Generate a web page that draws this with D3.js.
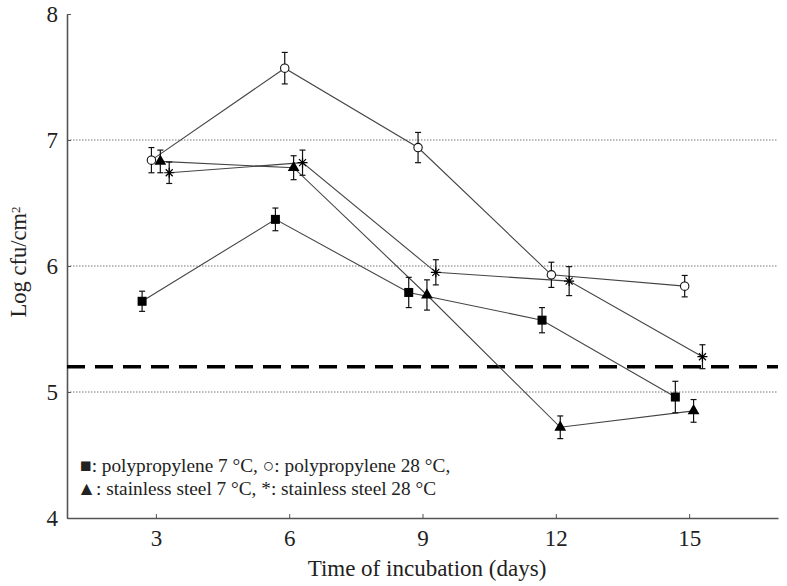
<!DOCTYPE html>
<html>
<head>
<meta charset="utf-8">
<script src="https://cdn.jsdelivr.net/npm/d3@7"></script>
<style>
  body { margin: 0; background: #fff; }
  svg text { font-family: "Liberation Serif", "Times New Roman", serif; fill: #222; }
</style>
</head>
<body>
<div id="chart"></div>
<script>
// Data
const days = [3, 6, 9, 12, 15];
const ppCold = [5.72, 6.37, 5.79, 5.57, 4.96];
const ppColdErr = [0.08, 0.09, 0.12, 0.10, 0.125];
const ppWarm = [6.84, 7.57, 6.94, 5.93, 5.84];
const ppWarmErr = [0.10, 0.125, 0.12, 0.10, 0.085];
const ssCold = [6.83, 6.78, 5.77, 4.72, 4.85];
const ssColdErr = [0.09, 0.095, 0.12, 0.09, 0.09];
const ssWarm = [6.74, 6.82, 5.95, 5.88, 5.28];
const ssWarmErr = [0.085, 0.10, 0.10, 0.115, 0.095];
const yTicks = [4, 5, 6, 7, 8];
const xTicks = [3, 6, 9, 12, 15];
const gridValues = [5, 6, 7];
const limitValue = 5.2;

// each series is shifted a little along x so the error bars don't overlap
const series = [
    { name: "pp7", values: ppCold, err: ppColdErr, shift: -0.31, marker: "square" },
    { name: "pp28", values: ppWarm, err: ppWarmErr, shift: -0.1, marker: "circle" },
    { name: "ss7", values: ssCold, err: ssColdErr, shift: 0.1, marker: "triangle" },
    { name: "ss28", values: ssWarm, err: ssWarmErr, shift: 0.3, marker: "star" }
];

let width = 787, height = 586;
let margin = { top: 14, bottom: 68, left: 67, right: 9 };

let svg = d3.select("#chart")
    .append("svg")
    .attr("width", width)
    .attr("height", height);

let xScale = d3.scaleLinear()
    .domain([1, 17])
    .range([margin.left, width - margin.right]);

let yScale = d3.scaleLinear()
    .domain([4, 8])
    .range([height - margin.bottom, margin.top]);

// dotted grid lines
svg.selectAll(".grid")
    .data(gridValues)
    .enter().append("line")
    .attr("x1", margin.left)
    .attr("x2", width - margin.right)
    .attr("y1", d => yScale(d))
    .attr("y2", d => yScale(d))
    .attr("stroke", "#777")
    .attr("stroke-width", 1)
    .attr("stroke-dasharray", "1.5,1.5");

// axes
let xAxis = svg.append("g")
    .attr("transform", `translate(0,${height - margin.bottom})`)
    .call(d3.axisBottom(xScale).tickValues(xTicks).tickFormat(d3.format("d"))
        .tickSizeInner(-4).tickSizeOuter(0).tickPadding(12));

let yAxis = svg.append("g")
    .attr("transform", `translate(${margin.left},0)`)
    .call(d3.axisLeft(yScale).tickValues(yTicks).tickFormat(d3.format("d"))
        .tickSizeInner(-4).tickSizeOuter(0).tickPadding(9));

[xAxis, yAxis].forEach(ax => {
    ax.attr("font-family", "Liberation Serif").attr("font-size", 23);
    ax.select(".domain").attr("stroke", "#555").attr("stroke-width", 1.6);
    ax.selectAll(".tick line").attr("stroke", "#555");
    ax.selectAll(".tick text")
        .style("font-family", "Liberation Serif")
        .attr("fill", "#222");
});
yAxis.selectAll(".tick text").attr("dy", "0.34em");
xAxis.selectAll(".tick text").attr("dy", "0.71em");

// detection limit
svg.append("line")
    .attr("x1", margin.left)
    .attr("x2", width - margin.right)
    .attr("y1", yScale(limitValue))
    .attr("y2", yScale(limitValue))
    .attr("stroke", "#000")
    .attr("stroke-width", 3.5)
    .attr("stroke-dasharray", "18,10");

// axis labels
svg.append("text")
    .attr("x", 427)
    .attr("y", 576)
    .style("text-anchor", "middle")
    .style("font-size", "23px")
    .text("Time of incubation (days)");

let yLabel = svg.append("text")
    .attr("transform", "translate(26,262) rotate(-90)")
    .style("text-anchor", "middle")
    .style("font-size", "22.5px");
yLabel.append("tspan").text("Log cfu/cm");
yLabel.append("tspan").attr("dy", "-0.5em").style("font-size", "13px").text("2");

// connecting lines
let line = d3.line()
    .x(d => xScale(d.x))
    .y(d => yScale(d.y));

series.forEach(s => {
    s.points = days.map((day, i) => ({ x: day + s.shift, y: s.values[i], e: s.err[i] }));

    svg.append("path")
        .datum(s.points)
        .attr("d", line)
        .attr("fill", "none")
        .attr("stroke", "#444")
        .attr("stroke-width", 1.1);
});

// error bars and markers
series.forEach(s => {
    let g = svg.append("g").attr("class", s.name);

    let bars = g.selectAll(".err")
        .data(s.points)
        .enter().append("g");

    bars.append("line")
        .attr("x1", d => xScale(d.x)).attr("x2", d => xScale(d.x))
        .attr("y1", d => yScale(d.y - d.e)).attr("y2", d => yScale(d.y + d.e));
    bars.append("line")
        .attr("x1", d => xScale(d.x) - 3).attr("x2", d => xScale(d.x) + 3)
        .attr("y1", d => yScale(d.y + d.e)).attr("y2", d => yScale(d.y + d.e));
    bars.append("line")
        .attr("x1", d => xScale(d.x) - 3).attr("x2", d => xScale(d.x) + 3)
        .attr("y1", d => yScale(d.y - d.e)).attr("y2", d => yScale(d.y - d.e));
    bars.selectAll("line").attr("stroke", "#111").attr("stroke-width", 1.2);

    let pts = g.selectAll(".pt")
        .data(s.points)
        .enter().append("g")
        .attr("transform", d => `translate(${xScale(d.x)},${yScale(d.y)})`);

    if (s.marker === "square") {
        pts.append("rect")
            .attr("x", -4.5).attr("y", -4.5)
            .attr("width", 9).attr("height", 9)
            .attr("fill", "#000");
    } else if (s.marker === "circle") {
        pts.append("circle")
            .attr("r", 4.2)
            .attr("fill", "#fff")
            .attr("stroke", "#111")
            .attr("stroke-width", 1.1);
    } else if (s.marker === "triangle") {
        pts.append("path")
            .attr("d", d3.symbol().type(d3.symbolTriangle).size(60))
            .attr("fill", "#000");
    } else {
        pts.append("path")
            .attr("d", "M-5,0H5M0,-5V5M-3.5,-3.5L3.5,3.5M-3.5,3.5L3.5,-3.5")
            .attr("stroke", "#000")
            .attr("stroke-width", 1.2);
    }
});

// legend text
let legend = svg.append("g").style("font-size", "19.3px");
legend.append("text")
    .attr("x", 80)
    .attr("y", 472)
    .text("■: polypropylene 7 °C, ○: polypropylene 28 °C,");
legend.append("text")
    .attr("x", 77)
    .attr("y", 495)
    .text("▲: stainless steel 7 °C, *: stainless steel 28 °C");
</script>
</body>
</html>
